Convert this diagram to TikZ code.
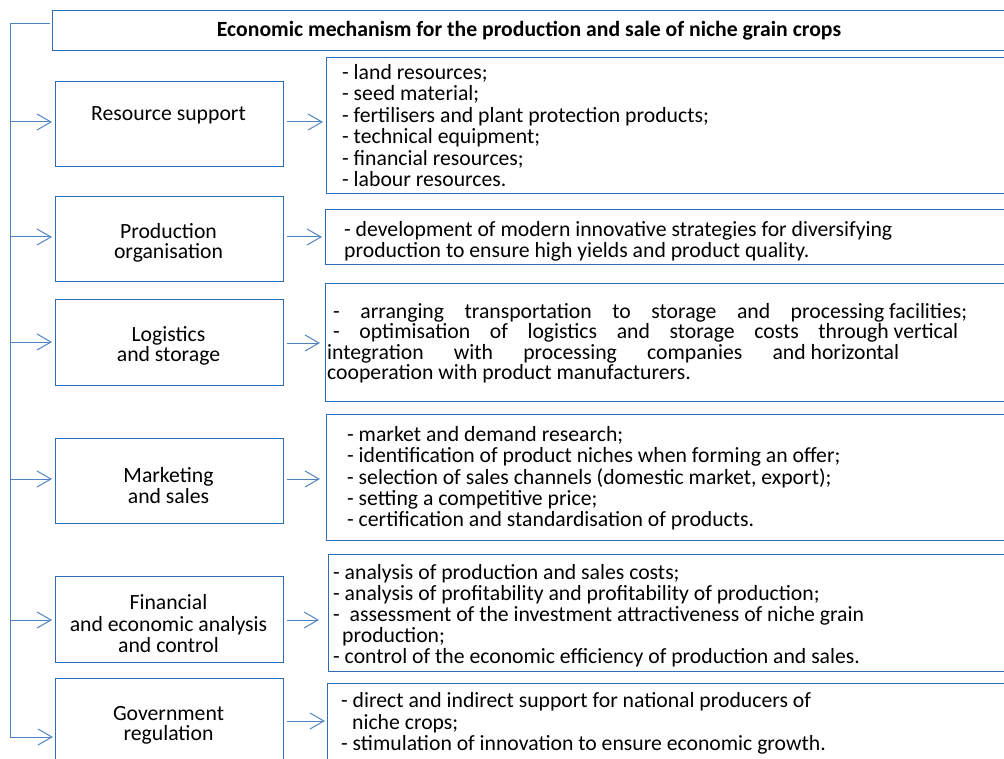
\documentclass[tikz,border=0pt]{standalone}
\usepackage{fontspec}
\setmainfont{Carlito}
\usetikzlibrary{arrows.meta}
\definecolor{boxblue}{RGB}{46,109,180}
\definecolor{linkblue}{RGB}{79,131,194}
\newcommand\bodysize[1]{\fontsize{21.7pt}{#1}\selectfont}
% left-aligned block whose reference point is the first baseline
\newcommand\leftblock[2]{\parbox[t]{670pt}{\bodysize{#1}\raggedright #2}}
% centred block whose reference point is the first baseline
\newcommand\midblock[2]{\parbox[t]{220pt}{\bodysize{#1}\centering #2}}

\begin{document}
\begin{tikzpicture}[x=1pt,y=-1pt,
  frame/.style={draw=boxblue, line width=1.3pt, rectangle, inner sep=0pt, anchor=north west},
  link/.style={draw=linkblue, line width=1pt},
  arr/.style={link, -{Straight Barb[length=14pt,width=16pt,line width=1pt]}},
  txt/.style={inner sep=0pt, anchor=base west},
  lbl/.style={inner sep=0pt, anchor=base},
]
\useasboundingbox (0,0) rectangle (1004,759);
\clip (0,0) rectangle (1004,759);

% title bar
\node[frame, minimum width=958pt, minimum height=40pt] (title) at (52,10) {};
\node[lbl, font=\bodysize{21pt}\bfseries] (titletext) at (529,37)
  {Economic mechanism for the production and sale of niche grain crops};

% component boxes on the left
\node[frame, minimum width=228pt, minimum height=85pt]  (res)  at (55,81)  {};
\node[frame, minimum width=228pt, minimum height=85pt]  (prod) at (55,196) {};
\node[frame, minimum width=228pt, minimum height=86pt]  (logi) at (55,299) {};
\node[frame, minimum width=228pt, minimum height=85pt]  (mark) at (55,438) {};
\node[frame, minimum width=228pt, minimum height=86pt]  (fin)  at (55,576) {};
\node[frame, minimum width=228pt, minimum height=110pt] (gov)  at (55,678) {};

\node[lbl] (resl)  at (168.5,120.5) {\midblock{20.5pt}{Resource support}};
\node[lbl] (prodl) at (168.5,238.5) {\midblock{20pt}{Production\\organisation}};
\node[lbl] (logil) at (168.5,341.5) {\midblock{20pt}{Logistics\\and storage}};
\node[lbl] (markl) at (168.5,482.5) {\midblock{21pt}{Marketing\\and sales}};
\node[lbl] (finl)  at (168.5,609.5) {\midblock{21.5pt}{Financial\\and economic analysis\\and control}};
\node[lbl] (govl)  at (168.5,720.5) {\midblock{20pt}{Government\\regulation}};

% content boxes on the right
\node[frame, minimum width=684pt, minimum height=136pt] (d1) at (326,57)  {};
\node[frame, minimum width=685pt, minimum height=55pt]  (d2) at (325,209) {};
\node[frame, minimum width=685pt, minimum height=118pt] (d3) at (325,283) {};
\node[frame, minimum width=684pt, minimum height=126pt] (d4) at (326,414) {};
\node[frame, minimum width=682pt, minimum height=117pt] (d5) at (328,554) {};
\node[frame, minimum width=683pt, minimum height=110pt] (d6) at (327,683) {};

\node[txt] (d1t) at (342,79.5) {\leftblock{21.5pt}{%
- land resources;\\
- seed material;\\
- fertilisers and plant protection products;\\
- technical equipment;\\
- financial resources;\\
- labour resources.}};

\node[txt] (d2t) at (344,236.5) {\leftblock{21pt}{%
- development of modern innovative strategies for diversifying\\
production to ensure high yields and product quality.}};

\node[txt] (d3t) at (333,318.5) {\leftblock{20.5pt}{%
\makebox[634pt][s]{- arranging transportation to storage and \mbox{processing facilities;}}\\
\makebox[625pt][s]{- optimisation of logistics and storage costs \mbox{through vertical}}\\
\hspace*{-6pt}\makebox[572pt][s]{integration with processing companies \mbox{and horizontal}}\\
\hspace*{-6pt}cooperation with product manufacturers.}};

\node[txt] (d4t) at (347,441.5) {\leftblock{21.3pt}{%
- market and demand research;\\
- identification of product niches when forming an offer;\\
- selection of sales channels (domestic market, export);\\
- setting a competitive price;\\
- certification and standardisation of products.}};

\node[txt] (d5t) at (333,579.5) {\leftblock{21pt}{%
- analysis of production and sales costs;\\
- analysis of profitability and profitability of production;\\
-\ \ assessment of the investment attractiveness of niche grain\\
\hspace*{9pt}production;\\
- control of the economic efficiency of production and sales.}};

\node[txt] (d6t) at (341,707.5) {\leftblock{21.5pt}{%
- direct and indirect support for national producers of\\
\hspace*{11pt}niche crops;\\
- stimulation of innovation to ensure economic growth.}};

% trunk line feeding every component
\coordinate (t0) at (10,24);
\coordinate (t1) at (10,122);
\coordinate (t2) at (10,237);
\coordinate (t3) at (10,342);
\coordinate (t4) at (10,479);
\coordinate (t5) at (10,620);
\coordinate (t6) at (10,737);

\draw[arr] ([xshift=-2pt]title.west |- t0) -- (t0) -- (t6) -- ([xshift=-2pt]gov.west |- t6);
\draw[arr] (t1) -- ([xshift=-3pt]res.west  |- t1);
\draw[arr] (t2) -- ([xshift=-3pt]prod.west |- t2);
\draw[arr] (t3) -- ([xshift=-3pt]logi.west |- t3);
\draw[arr] (t4) -- ([xshift=-3pt]mark.west |- t4);
\draw[arr] (t5) -- ([xshift=-3pt]fin.west  |- t5);

% component -> content
\draw[arr] ([xshift=3pt]res.east  |- 0,122) -- ([xshift=-3pt]d1.west |- 0,122);
\draw[arr] ([xshift=3pt]prod.east |- 0,237) -- ([xshift=-3pt]d2.west |- 0,237);
\draw[arr] ([xshift=3pt]logi.east |- 0,343) -- ([xshift=-5pt]d3.west |- 0,343);
\draw[arr] ([xshift=3pt]mark.east |- 0,479) -- ([xshift=-6pt]d4.west |- 0,479);
\draw[arr] ([xshift=3pt]fin.east  |- 0,620) -- ([xshift=-9pt]d5.west |- 0,620);
\draw[arr] ([xshift=3pt]gov.east  |- 0,721) -- ([xshift=-2pt]d6.west |- 0,721);
\end{tikzpicture}
\end{document}
